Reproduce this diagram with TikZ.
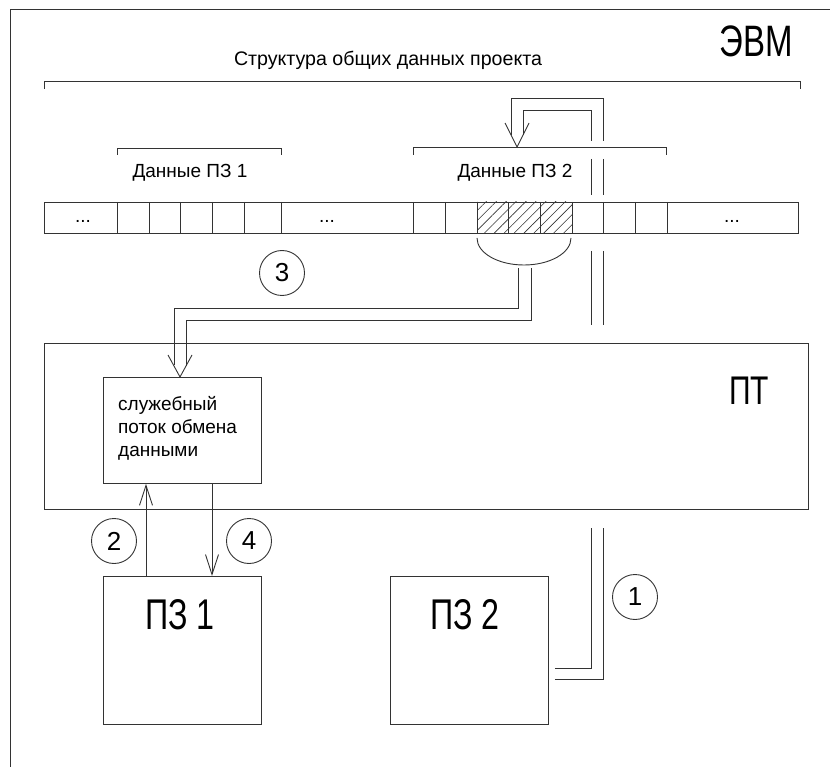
\documentclass[tikz,border=0pt]{standalone}
\usepackage{fontspec}
\setmainfont{Liberation Sans}
\newfontfamily\bigfont[FakeStretch=0.75]{Liberation Sans}
\usetikzlibrary{patterns.meta,arrows.meta}
\tikzset{
  ln/.style={draw=black!80, line width=0.9pt},
  box/.style={ln, rectangle, inner sep=0pt, anchor=north west},
  txt/.style={font=\fontsize{19}{23}\selectfont, inner sep=0pt},
  biglbl/.style={inner sep=0pt},
  circ/.style={ln, circle, minimum size=45pt, inner sep=0pt, font=\fontsize{26}{26}\selectfont},
  arr/.style={ln, -{Straight Barb[length=20pt, width=13pt, line width=0.9pt]}},
  hatch/.style={pattern={Lines[angle=45, distance=7pt, line width=0.6pt]}, pattern color=black!80}
}
\begin{document}
\begin{tikzpicture}[x=1pt, y=-1pt]
\useasboundingbox (0,0) rectangle (830,767);
% outer frame (cut off)
\draw[ln] (10,767) -- (10,9) -- (830,9);
\node[biglbl, font=\bigfont\fontsize{44}{44}\selectfont] (evm) at (756,41) {ЭВМ};
\node[txt, font=\fontsize{19.6}{23}\selectfont] (title) at (388,60) {Структура общих данных проекта};
% brackets
\draw[ln] (44,89) -- (44,81) -- (800,81) -- (800,89);
\draw[ln] (117,155) -- (117,148) -- (281,148) -- (281,155);
\draw[ln] (413,155) -- (413,147) -- (666,147) -- (666,155);
\node[txt] (d1) at (190,173) {Данные ПЗ 1};
\node[txt] (d2) at (515,173) {Данные ПЗ 2};
% array
\fill[hatch] (477,202) rectangle (572,233);
\draw[ln] (44,202) rectangle (798,233);
\foreach \x in {117,149,180,212,244,281,413,445,477,508,540,572,603,635,667}
  \draw[ln] (\x,202) -- (\x,233);
\node[txt] (dots1) at (83,221) {...};
\node[txt] (dots2) at (327,221) {...};
\node[txt] (dots3) at (732,221) {...};
% selection bracket under hatched cells
\draw[ln] (477,238) .. controls (477,253) and (498,265) .. (524,265)
          .. controls (550,265) and (571,253) .. (571,238);
% PT box
\node[box, minimum width=764pt, minimum height=166pt] (pt) at (44,343) {};
\node[biglbl, font=\bigfont\fontsize{40}{40}\selectfont] (ptlbl) at (749,391) {ПТ};
% service thread box
\node[box, minimum width=158pt, minimum height=106pt] (sl) at (103,377) {};
\node[txt, anchor=base west] (sl1) at (118,410) {служебный};
\node[txt, anchor=base west] (sl2) at (118,433) {поток обмена};
\node[txt, anchor=base west] (sl3) at (118,456) {данными};
% PZ boxes
\node[box, minimum width=158pt, minimum height=148pt] (pz1) at (103,576) {};
\node[biglbl, font=\bigfont\fontsize{43}{43}\selectfont] (pz1lbl) at (180,615) {ПЗ 1};
\node[box, minimum width=158pt, minimum height=148pt] (pz2) at (390,576) {};
\node[biglbl, font=\bigfont\fontsize{43}{43}\selectfont] (pz2lbl) at (465,615) {ПЗ 2};
% circles
\node[circ] (c1) at (635,597) {1};
\node[circ] (c2) at (114,541) {2};
\node[circ] (c3) at (282,273) {3};
\node[circ] (c4) at (249,541) {4};
% arrows 2 and 4
\coordinate (a2) at (146,0);
\coordinate (a4) at (212,0);
\draw[arr] (pz1.north -| a2) -- (sl.south -| a2);
\draw[arr] (sl.south -| a4) -- (pz1.north -| a4);
% channel 3 (double line) from selection to service thread
\draw[ln] (518,268) -- (518,308) -- (174,308) -- (174,365);
\draw[ln] (531,268) -- (531,320) -- (186,320) -- (186,366);
\draw[ln] (168,355) -- (sl.north -| 180,0) -- (192,355);
% channel 1 (double line) from PZ2 to Data PZ2
\draw[ln] ([xshift=6pt]pz2.east |- 0,668) -- (591,668) -- (591,528);
\draw[ln] ([xshift=6pt]pz2.east |- 0,679) -- (603,679) -- (603,528);
\draw[ln] (591,251) -- (591,325);
\draw[ln] (603,251) -- (603,325);
\draw[ln] (591,159) -- (591,195);
\draw[ln] (603,159) -- (603,195);
\draw[ln] (591,141) -- (591,110) -- (523,110) -- (523,135);
\draw[ln] (603,141) -- (603,98) -- (511,98) -- (511,135);
\draw[ln] (505,123) -- (517,147) -- (529,123);
\end{tikzpicture}
\end{document}
